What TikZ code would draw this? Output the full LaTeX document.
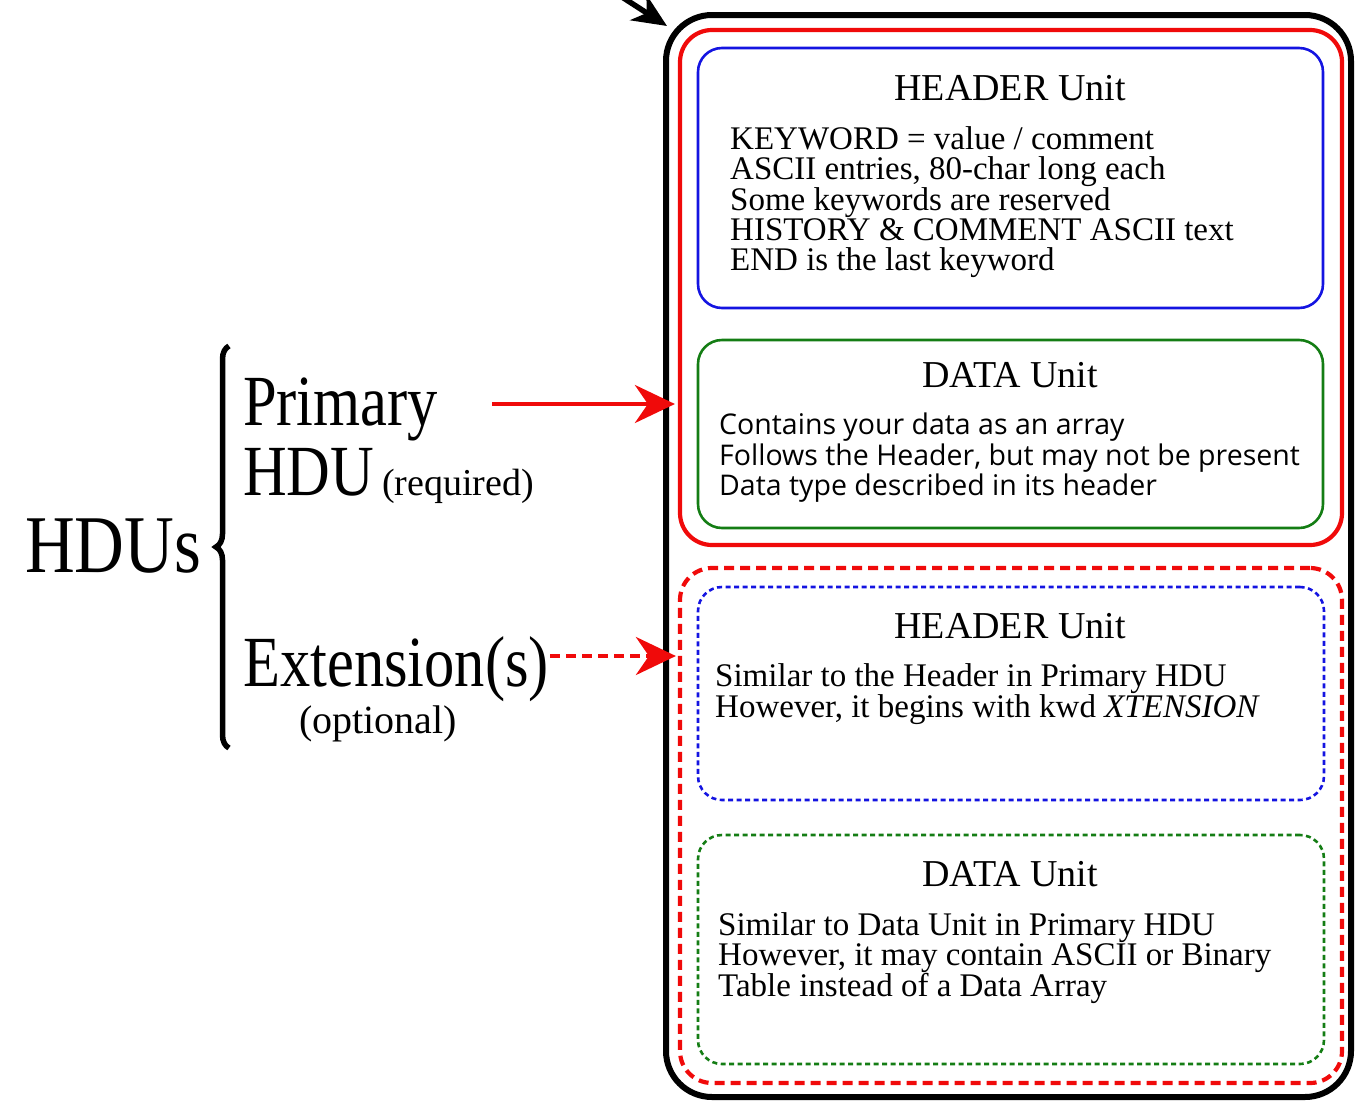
\documentclass[tikz,border=0pt]{standalone}
\usepackage{fontspec}
\setmainfont{Liberation Serif}
\newfontfamily\condserif[FakeStretch=0.84]{Liberation Serif}
\newfontfamily\unitsans{Open Sans}
\usetikzlibrary{arrows.meta,decorations.pathreplacing}

\definecolor{hdured}{RGB}{240,10,10}
\definecolor{hdublue}{RGB}{20,20,225}
\definecolor{hdugreen}{RGB}{20,125,20}

\begin{document}
\begin{tikzpicture}[x=1pt,y=-1pt,
    unitbox/.style={draw, rounded corners=24pt, line width=2.6pt, inner sep=0pt},
    hdubox/.style={draw=hdured, rounded corners=32pt, line width=4.2pt, inner sep=0pt},
    unittitle/.style={font=\fontsize{38}{38}\selectfont, anchor=base, inner sep=0pt},
    unitbody/.style={font=\fontsize{33}{30}\selectfont, align=left, anchor=north west, inner sep=0pt},
    sansbody/.style={font=\unitsans\fontsize{28.5}{30.5}\selectfont, align=left, anchor=north west, inner sep=0pt},
    bigword/.style={font=\condserif\fontsize{72}{72}\selectfont, anchor=base west, inner sep=0pt},
    hduarrow/.style={draw=hdured, line width=4.2pt, -{Stealth[length=40pt,width=38pt,inset=13pt]}}]
    \useasboundingbox (0,0) rectangle (1357,1103);

    % the file and its two HDUs
    \node[draw, rounded corners=46pt, line width=6pt, inner sep=0pt,
        minimum width=685pt, minimum height=1082pt] (file) at (1008.5,556) {};
    \node[hdubox, minimum width=662pt, minimum height=515pt] (prim) at (1011,287.5) {};
    \node[hdubox, dash pattern=on 10pt off 6pt, minimum width=662pt, minimum height=515pt] (extbox) at (1011,825.5) {};

    % primary HDU
    \node[unitbox, draw=hdublue, minimum width=625pt, minimum height=260pt] (hdr) at (1010.5,178) {};
    \node[unittitle] (hdrtitle) at (1010,100) {HEADER Unit};
    \node[unitbody] (hdrtext) at (730,126) {KEYWORD = value / comment\\
        ASCII entries, 80-char long each\\
        Some keywords are reserved\\
        HISTORY \& COMMENT ASCII text\\
        END is the last keyword};
    \node[unitbox, draw=hdugreen, minimum width=625pt, minimum height=188pt] (dat) at (1010.5,434) {};
    \node[unittitle] (dattitle) at (1010,387) {DATA Unit};
    \node[sansbody] (dattext) at (719,413) {Contains your data as an array\\
        Follows the Header, but may not be present\\
        Data type described in its header};

    % extensions
    \node[unitbox, draw=hdublue, dash pattern=on 5pt off 3.5pt, minimum width=626pt, minimum height=213pt] (exthdr) at (1011,693.5) {};
    \node[unittitle] (exthdrtitle) at (1010,638) {HEADER Unit};
    \node[unitbody] (exthdrtext) at (715,663) {Similar to the Header in Primary HDU\\
        However, it begins with kwd \textit{XTENSION}};
    \node[unitbox, draw=hdugreen, dash pattern=on 5pt off 3.5pt, minimum width=626pt, minimum height=229pt] (extdat) at (1011,949.5) {};
    \node[unittitle] (extdattitle) at (1010,886) {DATA Unit};
    \node[unitbody] (extdattext) at (718,912) {Similar to Data Unit in Primary HDU\\
        However, it may contain ASCII or Binary\\
        Table instead of a Data Array};

    % left labels
    \node[bigword, font=\condserif\fontsize{82}{82}\selectfont] (hdus) at (25,572) {HDUs};
    \node[bigword] (primary) at (243,425) {Primary};
    \node[bigword] (hdu) at (243,495) {HDU\hspace{8pt}\fontsize{38}{38}\selectfont\rmfamily(required)};
    \node[bigword] (ext) at (243,686) {Extension(s)};
    \node[anchor=base, inner sep=0pt, font=\fontsize{40}{40}\selectfont] (optional) at (378,733) {(optional)};
    \draw[line width=5.5pt, decorate, decoration={brace, amplitude=13pt}] (229,748) -- (229,346);

    % arrows
    \coordinate (pstart) at (492,404);
    \coordinate (estart) at (550,656);
    \draw[hduarrow] (pstart) -- ([xshift=-3pt]pstart -| prim.west);
    \draw[hduarrow, dash pattern=on 10pt off 6pt] (estart) -- ([xshift=-2pt]estart -| extbox.west);
    \coordinate (feed) at (608,-12);
    \coordinate (feedtip) at (667,26);
    \draw[line width=5.5pt, -{Stealth[length=34pt,width=30pt,inset=10pt]}] (feed) -- (feedtip);
\end{tikzpicture}
\end{document}
